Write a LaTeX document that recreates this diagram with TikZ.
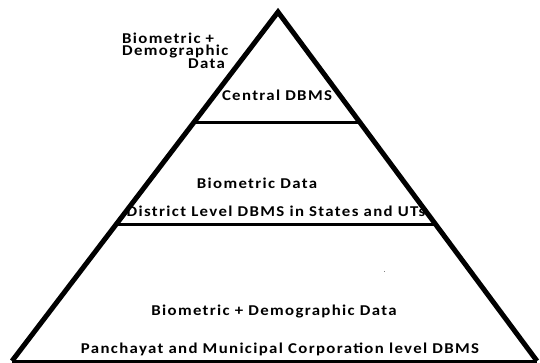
\documentclass[tikz,border=0pt]{standalone}
\usepackage{fontspec}
\setmainfont{Carlito}
\newfontfamily\labelfont[LetterSpace=9,FakeStretch=1.12]{Carlito}
\usetikzlibrary{calc}
\begin{document}
\begin{tikzpicture}[x=1pt,y=-1pt,
  lbl/.style={font=\labelfont\bfseries\fontsize{15}{15}\selectfont, inner sep=0pt, anchor=base},
  edge/.style={line width=5pt, line join=miter, line cap=butt},
  tier/.style={line width=3pt}]
  \useasboundingbox (0,0) rectangle (540,363);
  % pyramid corners
  \coordinate (apex) at (278,12);
  \coordinate (bl) at (12,361);
  \coordinate (br) at (537,361);
  % tier dividers on the sloping sides
  \coordinate (l1) at ($(apex)!0.316!(bl)$);
  \coordinate (r1) at ($(apex)!0.316!(br)$);
  \coordinate (l2) at ($(apex)!0.609!(bl)$);
  \coordinate (r2) at ($(apex)!0.609!(br)$);
  \draw[tier] (l1) -- (r1);
  \draw[tier] (l2) -- (r2);
  \draw[tier] (bl) -- (br);
  \draw[edge] (bl) -- (apex) -- (br);
  % labels (the three-line block is placed by the baseline of its last line)
  \node[lbl, font=\labelfont\bfseries\fontsize{15}{12.6}\selectfont, align=left, anchor=base west]
    (top) at (122,68.6) {Biometric +\\Demographic\\\hspace*{66pt}Data};
  \node[lbl] (central) at (277,101) {Central DBMS};
  \node[lbl] (bio) at (257,189) {Biometric Data};
  \node[lbl] (district) at (276,216) {District Level DBMS in States and UTs};
  \node[lbl] (biodemo) at (274,315) {Biometric + Demographic Data};
  \node[lbl] (panch) at (280,353) {Panchayat and Municipal Corporation level DBMS};
  \fill[gray] (383.5,270.5) rectangle (385,272);
\end{tikzpicture}
\end{document}
